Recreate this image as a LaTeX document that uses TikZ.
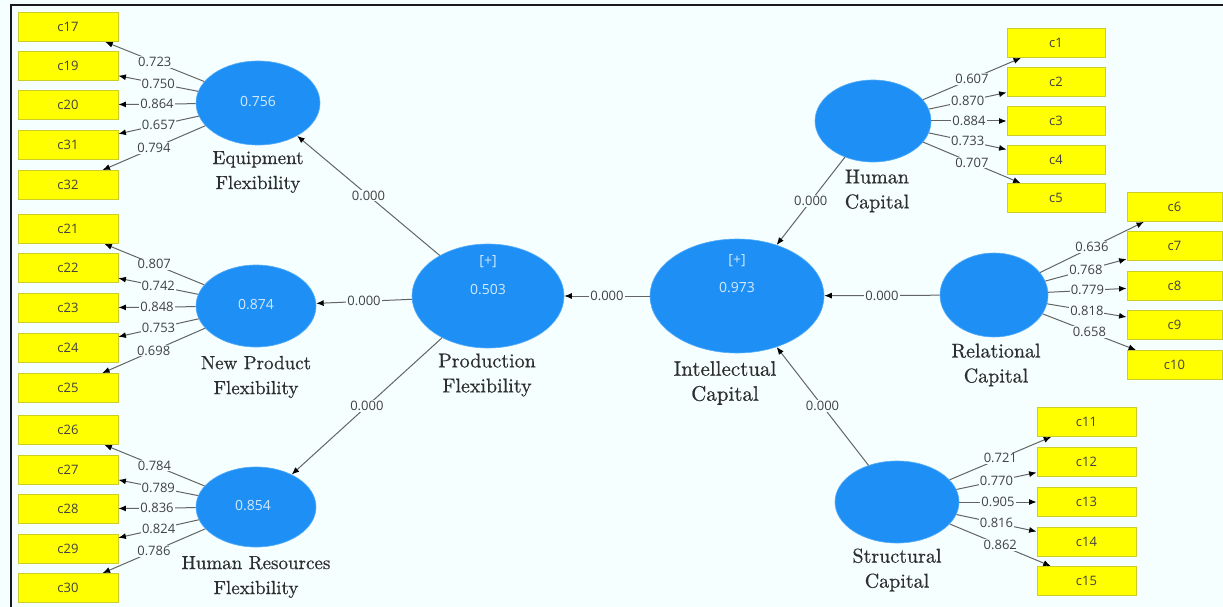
\documentclass[tikz,border=0pt]{standalone}
\usepackage{fontspec}
\setsansfont{Open Sans}
\newfontfamily\capfont{lmroman10-regular.otf}[FakeBold=0.6]
\usetikzlibrary{shapes.geometric,arrows.meta}
\definecolor{bgc}{RGB}{245,255,255}
\definecolor{lvc}{RGB}{30,144,245}
\definecolor{indc}{RGB}{255,255,0}
\definecolor{indb}{RGB}{205,205,40}
\definecolor{numc}{RGB}{65,65,65}
\definecolor{edgec}{RGB}{100,100,100}
\begin{document}
\begin{tikzpicture}[x=1pt,y=-1pt,
  indbox/.style={rectangle, fill=indc, draw=indb, line width=0.8pt, minimum width=99pt, minimum height=29pt, inner sep=0pt, font=\sffamily\fontsize{13}{13}\selectfont, text=numc},
  lat/.style={ellipse, fill=lvc, draw=lvc!75!white, line width=0.6pt, inner sep=0pt},
  lvtext/.style={font=\sffamily\fontsize{14}{14}\selectfont, text=white!80!lvc},
  latname/.style={font=\capfont\fontsize{#1}{25}\selectfont, text=black!82, align=center},
  wlab/.style={fill=bgc, inner sep=1pt, font=\sffamily\fontsize{13}{13}\selectfont, text=numc},
  ld/.style={draw=edgec, line width=1pt, -{Latex[length=7.5pt,width=6pt,black]}}
]
\useasboundingbox (0,0) rectangle (1223,607);
\fill[bgc] (0,0) rectangle (1223,607);
\draw[black!90, line width=1.8pt] (11,607) -- (11,5) -- (1223,5);

% left indicators
\foreach \n/\y in {c17/27,c19/66,c20/105,c31/145,c32/185,c21/229,c22/268,c23/308,c24/348,c25/388,c26/430,c27/470,c28/509,c29/549,c30/588}
  \node[indbox, minimum width=100pt] (\n) at (68,\y) {\n};
% right indicators
\foreach \n/\y in {c1/43,c2/82,c3/121,c4/160,c5/198}
  \node[indbox, minimum width=98pt] (\n) at (1056,\y) {\n};
\foreach \n/\y in {c6/207,c7/246,c8/286,c9/325,c10/365}
  \node[indbox, minimum width=95pt] (\n) at (1174.5,\y) {\n};
\foreach \n/\y in {c11/422,c12/462,c13/502,c14/542,c15/581}
  \node[indbox] (\n) at (1086.5,\y) {\n};

% latent variables
\node[lat, minimum width=124pt, minimum height=84pt] (eq) at (258,103) {};
\node[lvtext] (eqv) at (258,102) {0.756};
\node[latname=19] (eql) at (258,172) {Equipment\\Flexibility};

\node[lat, minimum width=120pt, minimum height=82pt] (np) at (256,306) {};
\node[lvtext] (npv) at (256,305) {0.874};
\node[latname=19] (npl) at (256,377) {New Product\\Flexibility};

\node[lat, minimum width=120pt, minimum height=80pt] (hr) at (256,507) {};
\node[lvtext] (hrv) at (253,506) {0.854};
\node[latname=19] (hrl) at (256,577) {Human Resources\\Flexibility};

\node[lat, minimum width=152pt, minimum height=104pt] (pf) at (488,296) {};
\node[lvtext] (pfp) at (488,262) {[+]};
\node[lvtext] (pfv) at (488,290) {0.503};
\node[latname=20] (pfl) at (487,375) {Production\\Flexibility};

\node[lat, minimum width=174pt, minimum height=114pt] (ic) at (737,296) {};
\node[lvtext] (icp) at (737,261) {[+]};
\node[lvtext] (icv) at (737,288) {0.973};
\node[latname=21] (icl) at (725,383) {Intellectual\\Capital};

\node[lat, minimum width=116pt, minimum height=82pt] (hc) at (873,121) {};
\node[latname=20] (hcl) at (877,191) {Human\\Capital};

\node[lat, minimum width=108pt, minimum height=84pt] (rc) at (994,295) {};
\node[latname=20] (rcl) at (996,365) {Relational\\Capital};

\node[lat, minimum width=124pt, minimum height=82pt] (sc) at (897,502) {};
\node[latname=20] (scl) at (897,570) {Structural\\Capital};

% structural paths
\draw[ld] (pf) -- node[wlab]{0.000} (eq);
\draw[ld] (pf) -- node[wlab]{0.000} (np);
\draw[ld] (pf) -- node[wlab]{0.000} (hr);
\draw[ld] (ic) -- node[wlab]{0.000} (pf);
\draw[ld] (hc) -- node[wlab]{0.000} (ic);
\draw[ld] (rc) -- node[wlab]{0.000} (ic);
\draw[ld] (sc) -- node[wlab]{0.000} (ic);

% loadings
\foreach \b/\v in {c17/0.723,c19/0.750,c20/0.864,c31/0.657,c32/0.794}
  \draw[ld] (eq) -- node[wlab]{\v} (\b);
\foreach \b/\v in {c21/0.807,c22/0.742,c23/0.848,c24/0.753,c25/0.698}
  \draw[ld] (np) -- node[wlab]{\v} (\b);
\foreach \b/\v in {c26/0.784,c27/0.789,c28/0.836,c29/0.824,c30/0.786}
  \draw[ld] (hr) -- node[wlab]{\v} (\b);
\foreach \b/\v in {c1/0.607,c2/0.870,c3/0.884,c4/0.733,c5/0.707}
  \draw[ld] (hc) -- node[wlab]{\v} (\b);
\foreach \b/\v in {c6/0.636,c7/0.768,c8/0.779,c9/0.818,c10/0.658}
  \draw[ld] (rc) -- node[wlab]{\v} (\b);
\foreach \b/\v in {c11/0.721,c12/0.770,c13/0.905,c14/0.816,c15/0.862}
  \draw[ld] (sc) -- node[wlab]{\v} (\b);
\end{tikzpicture}
\end{document}
